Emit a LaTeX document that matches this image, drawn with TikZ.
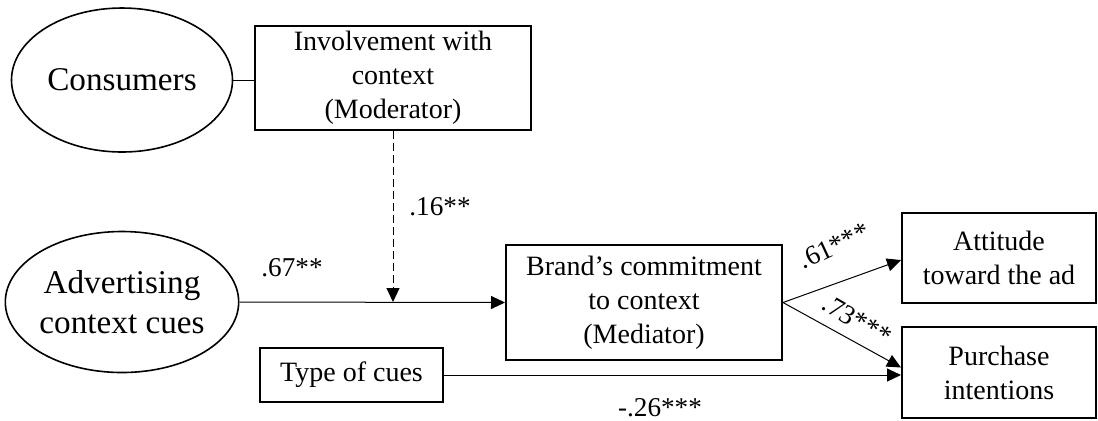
\documentclass[tikz,border=0pt]{standalone}
\usepackage{fontspec}
\setmainfont{Liberation Serif}
\usetikzlibrary{arrows.meta,positioning,calc,shapes.geometric}

\tikzset{
  latent/.style={draw,line width=0.8pt,ellipse,inner sep=0pt,align=center,
    font=\fontsize{16.6}{20}\selectfont},
  varbox/.style={draw,line width=1pt,rectangle,inner sep=0pt,align=center,
    font=\fontsize{14}{17}\selectfont},
  coef/.style={font=\fontsize{13.6}{16}\selectfont,inner sep=0pt},
  effect/.style={line width=0.5pt,-{Triangle[length=7pt,width=6.5pt]}}
}

\begin{document}
\begin{tikzpicture}[x=0.5pt,y=-0.5pt]
  \useasboundingbox (0,0) rectangle (1098,420);
  % constructs
  \node[latent,minimum width=110.5pt,minimum height=72pt] (cons) at (122,80) {Consumers};
  \node[latent,minimum width=110.5pt,minimum height=70.5pt] (cues) at (122,302) {Advertising\\context cues};
  \node[varbox,minimum width=138pt,minimum height=52pt] (mod) at (393,78) {Involvement with\\context\\(Moderator)};
  \node[varbox,minimum width=138pt,minimum height=57.5pt] (med) at (644,302.5) {Brand’s commitment\\to context\\(Mediator)};
  \node[varbox,minimum width=91.5pt,minimum height=27pt] (type) at (351.5,375) {Type of cues};
  \node[varbox,minimum width=97pt,minimum height=45pt] (att) at (999,258) {Attitude\\toward the ad};
  \node[varbox,minimum width=97pt,minimum height=45.5pt] (pur) at (999,372.5) {Purchase\\intentions};
  \coordinate (hit) at (mod.south |- cues.east);
  % paths
  \draw[line width=0.5pt] (cons.east) -- (mod.west |- cons.east);
  \draw[effect,dash pattern=on 4pt off 2pt] (mod.south) -- (hit);
  \draw[effect] (cues.east) -- (med.west);
  \draw[effect] (med.east) -- ([yshift=-1pt]att.west);
  \draw[effect] (med.east) -- ([yshift=2.5pt]pur.west);
  \draw[effect] (type.east) -- (type.east -| pur.west);
  % coefficients
  \node[coef] (c16) at (440,207) {.16**};
  \node[coef] (c67) at (292,268) {.67**};
  \node[coef,rotate=25] (c61) at (834,246) {.61***};
  \node[coef,rotate=-30] (c73) at (857,320) {.73***};
  \node[coef] (c26) at (660,408) {-.26***};
\end{tikzpicture}
\end{document}
